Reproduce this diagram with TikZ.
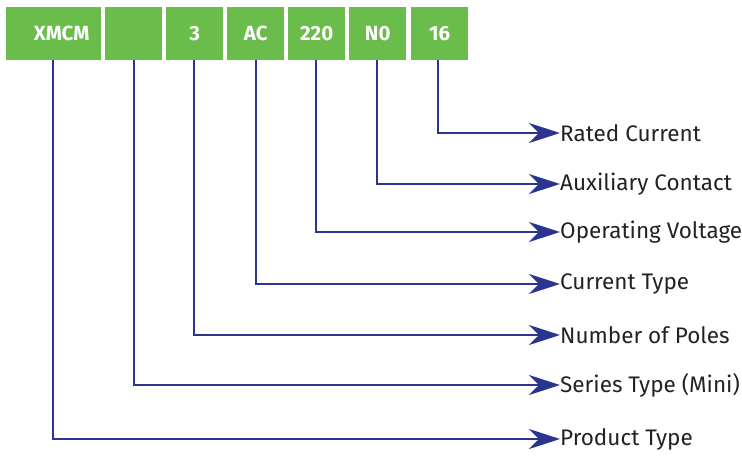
\documentclass[tikz,border=0pt]{standalone}
\usepackage{fontspec}
\setmainfont{Fira Sans}
\usetikzlibrary{arrows.meta}
\definecolor{boxgreen}{HTML}{6ABD4B}
\definecolor{linkblue}{HTML}{2B3590}
\definecolor{labelgray}{HTML}{222222}
\begin{document}
\begin{tikzpicture}[x=1pt,y=-1pt,
  codebox/.style={fill=boxgreen,text=white,minimum height=53pt,inner sep=0pt,
    font=\fontsize{20.5}{20.5}\selectfont\bfseries,anchor=north west},
  link/.style={draw=linkblue,line width=2.2pt,
    -{Stealth[length=31pt,width=20pt,inset=10pt]}},
  label/.style={anchor=west,inner sep=0pt,text=labelgray,
    font=\fontsize{22.5}{22.5}\selectfont}]
\useasboundingbox (0,0) rectangle (742,459);
% code segments
\node[codebox,minimum width=95pt] (b1) at (6,7) {\hspace*{16pt}XMCM};
\node[codebox,minimum width=57pt] (b2) at (105,7) {};
\node[codebox,minimum width=57pt] (b3) at (166,7) {3};
\node[codebox,minimum width=57pt] (b4) at (227,7) {AC};
\node[codebox,minimum width=57pt] (b5) at (288,7) {220};
\node[codebox,minimum width=57pt] (b6) at (349,7) {N0};
\node[codebox,minimum width=57pt] (b7) at (411,7) {16};
% descriptions
\node[label] (l7) at (560,133) {Rated Current};
\node[label] (l6) at (560,184) {Auxiliary Contact};
\node[label] (l5) at (560,232) {Operating Voltage};
\node[label] (l4) at (560,284) {Current Type};
\node[label] (l3) at (560,335) {Number of Poles};
\node[label] (l2) at (560,385) {Series Type (Mini)};
\node[label] (l1) at (560,439) {Product Type};
% connectors
\foreach \i/\x in {1/53,2/134,3/194,4/256,5/316,6/377,7/438}{
  \draw[link] (\x,60) |- (l\i.west);
}
\end{tikzpicture}
\end{document}
